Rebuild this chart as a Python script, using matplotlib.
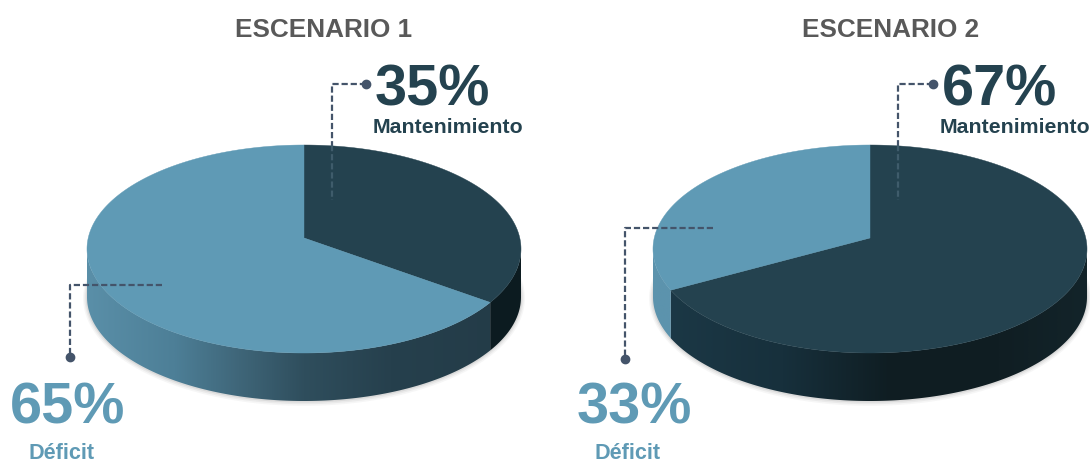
import numpy as np
import matplotlib
matplotlib.use("Agg")
import matplotlib.pyplot as plt
from matplotlib.colors import LinearSegmentedColormap, to_rgb
from matplotlib.patches import Polygon

plt.rcParams['font.family'] = ['Liberation Sans', 'DejaVu Sans']

# ---- data ----
titles = ["ESCENARIO 1", "ESCENARIO 2"]
categories = ["Mantenimiento", "Déficit"]
scenario_1 = [35, 65]
scenario_2 = [67, 33]
scenarios = [scenario_1, scenario_2]

# ---- styling ----
W, H = 1090, 463
DARK, LIGHT = "#24424f", "#5f9ab5"
LINE = "#44546a"
DEPTH = 48 / 104
TILT = 0.106       # perspective shift of the apex
PIE_LEFT = [87, 653]
PIE_W, PIE_TOP, PIE_H = 434, 145, 256

wall_1 = [[(-1, "#0c1b20"), (1, "#0d1c21")],
          [(-1, "#5a8fa8"), (-.6, "#4d7f97"), (-.3, "#3f6679"), (0, "#2f4e5d"),
           (.4, "#26404d"), (1, "#233b47")]]
wall_2 = [[(-1, "#1c3947"), (-.4, "#17303c"), (.1, "#0f1d22"), (.6, "#101e23"), (1, "#13242a")],
          [(-1, "#5c93ad"), (1, "#5c93ad")]]
walls = [wall_1, wall_2]


def project(x, y):
    d = 1 + TILT * y
    return x * np.sqrt(1 - TILT ** 2) / d, (y + TILT) / d


def rim(a0, a1, n=500):
    a = np.linspace(a0, a1, n)
    return project(np.sin(a), np.cos(a))


def gradient_cmap(stops):
    xs = [(s[0] + 1) / 2 for s in stops]
    return LinearSegmentedColormap.from_list("w", list(zip(xs, [to_rgb(s[1]) for s in stops])))


def draw_pie(ax, values, stops):
    total = sum(values)
    edges = np.cumsum([0] + list(values)) / total * 2 * np.pi
    colors = [DARK, LIGHT]

    # soft shadow under the wall
    t = np.linspace(0, 2 * np.pi, 300)
    for k, al in zip([.018, .012, .006], [.05, .07, .10]):
        ax.fill((1 + k) * np.cos(t), (1 + 2 * k) * np.sin(t) - DEPTH - k * .6,
                color="#555555", alpha=al, lw=0, clip_on=False)

    # side walls
    for i, v in enumerate(values):
        x, y = rim(edges[i], edges[i + 1])
        keep = y <= 0.002
        if keep.sum() < 2:
            continue
        x, y = x[keep], y[keep]
        verts = np.r_[np.c_[x, y], np.c_[x, y - DEPTH][::-1]]
        grad = np.linspace(0, 1, 512).reshape(1, -1)
        im = ax.imshow(grad, extent=(-1, 1, -1.5, 1.0), aspect="auto",
                       cmap=gradient_cmap(stops[i]), zorder=2, interpolation="bilinear")
        im.set_clip_path(Polygon(verts, closed=True, transform=ax.transData))

    # top face
    ax0, ay0 = project(0.0, 0.0)
    for i, v in enumerate(values):
        x, y = rim(edges[i], edges[i + 1])
        ax.fill(np.r_[ax0, x], np.r_[ay0, y], color=colors[i], lw=0.3, zorder=3, clip_on=False)

    ax.set_xlim(-1, 1)
    ax.set_ylim(-1.5 + 0.0385, 1)
    ax.axis("off")


fig = plt.figure(figsize=(W / 100, H / 100), dpi=100, facecolor="white")

for s, values in enumerate(scenarios):
    ax = fig.add_axes([PIE_LEFT[s] / W, 1 - (PIE_TOP + PIE_H) / H, PIE_W / W, PIE_H / H])
    draw_pie(ax, values, walls[s])

ov = fig.add_axes([0, 0, 1, 1], zorder=10)
ov.set_xlim(0, W)
ov.set_ylim(H, 0)
ov.axis("off")
ov.patch.set_alpha(0)

dash = dict(color=LINE, lw=1.6, ls=(0, (2.8, 1.3)))
dash_faint = dict(color="#3f5c6b", lw=1.6, ls=(0, (2.8, 1.3)))
offs = [0, 566.5]
left_y = [285, 228]
left_x = [162, 713]
left_x2 = [70, 625]
left_bot = [357, 359]

for s, values in enumerate(scenarios):
    ox = offs[s]
    # upper leader
    ov.plot([366 + ox, 331.5 + ox, 331.5 + ox], [84, 84, 145], **dash)
    ov.plot([331.5 + ox, 331.5 + ox], [145, 200], **dash_faint)
    ov.plot([366 + ox], [84], "o", ms=6, color=LINE)
    # lower leader
    ov.plot([left_x[s], left_x2[s], left_x2[s]], [left_y[s], left_y[s], left_bot[s]], **dash)
    ov.plot([left_x2[s]], [left_bot[s]], "o", ms=6, color=LINE)

    ov.text(324 + ox, 30, titles[s], ha="center", va="center", fontsize=18.8,
            fontweight="bold", color="#595959")
    ov.text(375 + ox, 106, f"{values[0]}%", ha="left", va="baseline", fontsize=41.5,
            fontweight="bold", color=DARK)
    ov.text(373 + ox, 133, categories[0], ha="left", va="baseline", fontsize=15.3,
            fontweight="bold", color=DARK)
    ov.text(10 + ox, 424, f"{values[1]}%", ha="left", va="baseline", fontsize=41.5,
            fontweight="bold", color=LIGHT)
    ov.text(28 + ox, 459, categories[1], ha="left", va="baseline", fontsize=15.6,
            fontweight="bold", color=LIGHT)

fig.savefig("out.png", dpi=100, facecolor="white")
